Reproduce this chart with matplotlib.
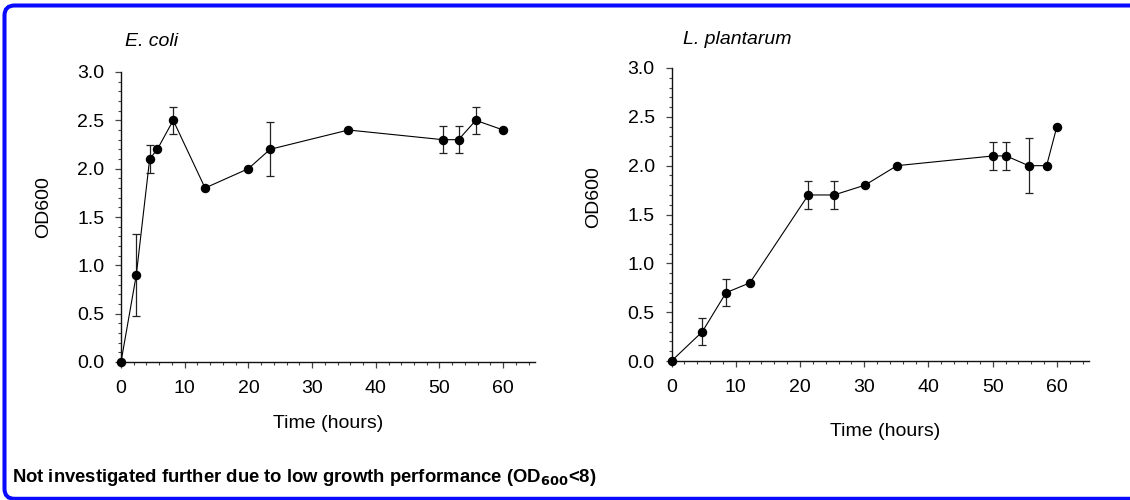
import matplotlib
matplotlib.use("Agg")
import matplotlib.pyplot as plt
from matplotlib.patches import FancyBboxPatch
from matplotlib.ticker import MultipleLocator

plt.rcParams['font.family'] = ['Liberation Sans', 'DejaVu Sans']

# E. coli growth
ecoli_time = [0, 2.4, 4.5, 5.7, 8.2, 13.2, 20.0, 23.4, 35.7, 50.5, 53.0, 55.7, 60.0]
ecoli_od = [0.0, 0.90, 2.10, 2.20, 2.50, 1.80, 2.00, 2.20, 2.40, 2.30, 2.30, 2.50, 2.40]
ecoli_err = [0, 0.42, 0.14, 0, 0.14, 0, 0, 0.28, 0, 0.14, 0.14, 0.14, 0]

# L. plantarum growth
lplant_time = [0, 4.8, 8.5, 12.2, 21.3, 25.3, 30.1, 35.1, 50.1, 52.1, 55.6, 58.4, 60.0]
lplant_od = [0.0, 0.30, 0.70, 0.80, 1.70, 1.70, 1.80, 2.00, 2.10, 2.10, 2.00, 2.00, 2.40]
lplant_err = [0, 0.14, 0.14, 0, 0.14, 0.14, 0, 0, 0.14, 0.14, 0.28, 0, 0]

W, H = 1130, 500
fig = plt.figure(figsize=(W / 100, H / 100), dpi=100)


def px(x0, y_top, x1, y_bot):
    return [x0 / W, 1 - y_bot / H, (x1 - x0) / W, (y_bot - y_top) / H]


def draw_panel(ax, t, od, err):
    ax.errorbar(t, od, yerr=err, fmt='none', ecolor='#222222', elinewidth=0.9,
                capsize=3.2, capthick=0.9, clip_on=False, zorder=2)
    ax.plot(t, od, '-o', color='black', lw=0.8, markersize=5.8, clip_on=False, zorder=3)
    ax.set_xlim(0, 65)
    ax.set_ylim(0, 3.0)
    ax.xaxis.set_major_locator(MultipleLocator(10))
    ax.xaxis.set_minor_locator(MultipleLocator(2))
    ax.yaxis.set_major_locator(MultipleLocator(0.5))
    ax.yaxis.set_minor_locator(MultipleLocator(0.1))
    ax.yaxis.set_major_formatter(matplotlib.ticker.FormatStrFormatter('%.1f'))
    for s in ['top', 'right']:
        ax.spines[s].set_visible(False)
    for s in ['left', 'bottom']:
        ax.spines[s].set_linewidth(1.0)
        ax.spines[s].set_color('#111111')
    ax.tick_params(which='major', direction='out', length=4, width=0.9,
                   color='#444444', labelsize=14)
    ax.tick_params(which='minor', direction='out', length=2.5, width=0.8, color='#444444')
    ax.tick_params(axis='x', pad=9)
    ax.tick_params(axis='y', pad=8)


ax1 = fig.add_axes(px(121, 72, 535, 362))
draw_panel(ax1, ecoli_time, ecoli_od, ecoli_err)
ax2 = fig.add_axes(px(671.5, 68, 1089, 361))
draw_panel(ax2, lplant_time, lplant_od, lplant_err)

# titles and axis labels
fig.text(125 / W, 1 - 42 / H, 'E. coli', style='italic', fontsize=14, ha='left', va='center')
fig.text(683 / W, 1 - 40 / H, 'L. plantarum', style='italic', fontsize=14, ha='left', va='center')
fig.text(44 / W, 1 - 207 / H, 'OD600', rotation=90, fontsize=14, ha='center', va='center')
fig.text(594 / W, 1 - 197 / H, 'OD600', rotation=90, fontsize=14, ha='center', va='center')
fig.text(328 / W, 1 - 423 / H, 'Time (hours)', fontsize=14, ha='center', va='center')
fig.text(885 / W, 1 - 432 / H, 'Time (hours)', fontsize=14, ha='center', va='center')

fig.text(12 / W, 1 - 477 / H,
         r'Not investigated further due to low growth performance (OD$_{\mathbf{600}}$<8)',
         fontsize=13.3, fontweight='bold', ha='left', va='center')

# blue rounded border, running off the right and bottom edges
border = FancyBboxPatch((0.045, 0.012), 11.5, 4.933,
                        boxstyle='round,pad=0,rounding_size=0.1',
                        transform=fig.dpi_scale_trans, fill=False,
                        edgecolor='#0a0aff', linewidth=2.9)
fig.patches.append(border)

fig.savefig('out.png', dpi=100)
